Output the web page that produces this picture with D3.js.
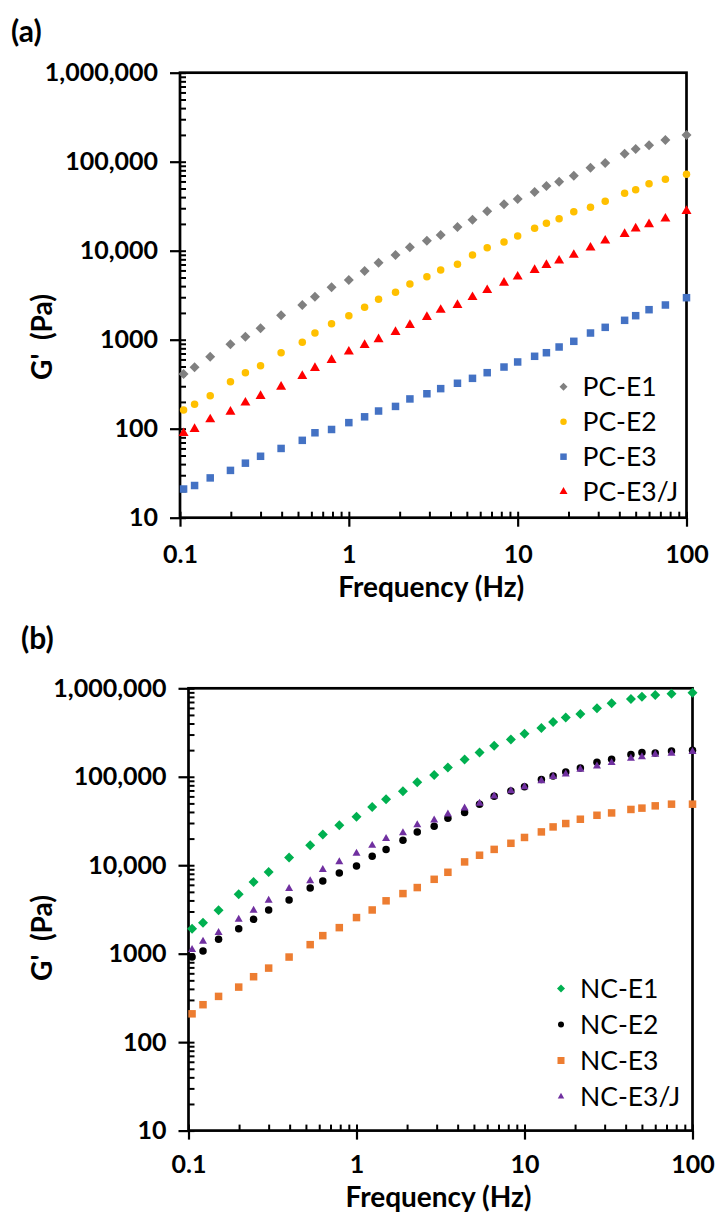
<!DOCTYPE html>
<html lang="en">
<head>
<meta charset="UTF-8">
<title>G' vs Frequency</title>
<script src="https://d3js.org/d3.v7.min.js"></script>
<style>
  body { margin: 0; background: #fff; }
  svg { display: block; font-family: Lato, "Open Sans", sans-serif; }
</style>
</head>
<body>
<svg id="chart" width="716" height="1214"></svg>
<script>
// frequency sweep points (Hz), shared by every series
const freqHz = [0.105, 0.122, 0.151, 0.199, 0.244, 0.3, 0.397, 0.53, 0.63, 0.79, 1.0,
  1.24, 1.5, 1.89, 2.3, 2.9, 3.5, 4.4, 5.4, 6.6, 8.3, 10, 12.6, 14.8, 17.6, 21.5,
  27, 33, 43, 50, 60, 75, 100];

// panel (a) - G' (Pa)
const pcE1 = [412, 490, 644, 887, 1081, 1343, 1880, 2454, 3041, 3880, 4700, 5915, 7330,
  8950, 10900, 12950, 15000, 18450, 22300, 27700, 33200, 38100, 45700, 53400, 59600,
  69600, 85700, 96700, 123000, 139000, 153000, 175000, 199500];
const pcE2 = [162, 188, 235, 337, 426, 511, 714, 935, 1189, 1513, 1862, 2312, 2840, 3410,
  4230, 5100, 6070, 7030, 8950, 10800, 12500, 14600, 17900, 20300, 22900, 27400, 30700,
  35900, 44200, 48400, 56600, 63400, 72100];
const pcE3 = [21, 23, 28, 34, 41, 49, 60, 74, 90, 98, 117, 136, 158, 178, 216, 247, 282,
  324, 368, 426, 493, 562, 651, 714, 828, 959, 1189, 1377, 1651, 1862, 2174, 2454, 2965];
const pcE3J = [89, 99, 127, 155, 196, 233, 296, 391, 481, 591, 733, 871, 1009, 1218, 1461,
  1798, 2158, 2454, 3000, 3600, 4350, 5100, 6070, 6900, 7720, 8950, 10800, 12950, 15400,
  17700, 19800, 22900, 27900];

// panel (b) - G' (Pa)
const ncE1 = [1919, 2244, 3090, 4690, 6460, 8400, 12200, 16800, 22200, 28300, 35200, 45600,
  55700, 68700, 86900, 105000, 127000, 157000, 188000, 224000, 264000, 306000, 355000,
  415000, 469000, 511000, 593000, 676000, 756000, 803000, 840000, 868000, 890000];
const ncE2 = [916, 1072, 1452, 1919, 2443, 3120, 4050, 5530, 6640, 8170, 9810, 12600, 15100,
  19100, 23800, 27600, 34000, 39400, 49000, 60300, 69200, 76900, 93100, 102000, 113000,
  126000, 146000, 158000, 179000, 188000, 186000, 195000, 200000];
const ncE3 = [209, 265, 329, 419, 549, 687, 916, 1265, 1600, 1970, 2560, 3120, 3960, 4780,
  5590, 6930, 8320, 10900, 12970, 15100, 17700, 20600, 23800, 27100, 29600, 33100, 36700,
  39000, 42700, 44200, 46900, 49000, 49000];
const ncE3J = [1109, 1377, 1730, 2443, 3090, 4010, 5440, 6640, 8930, 10900, 13600, 16700,
  20000, 23200, 28600, 32300, 37800, 44200, 49900, 60300, 69200, 76900, 89900, 100000,
  107000, 121000, 132000, 144000, 161000, 168000, 179000, 184000, 192000];

const namesA = ["PC-E1", "PC-E2", "PC-E3", "PC-E3/J"];
const namesB = ["NC-E1", "NC-E2", "NC-E3", "NC-E3/J"];

const yTickValues = [10, 100, 1000, 10000, 100000, 1000000];
const yTickLabels = ["10", "100", "1000", "10,000", "100,000", "1,000,000"];
const xTickValues = [0.1, 1, 10, 100];
const xTickLabels = ["0.1", "1", "10", "100"];

const svg = d3.select("#chart");

// minor ticks 2..9 in every decade
function minorTicks(lo, hi) {
  const out = [];
  for (let d = lo; d < hi; d *= 10)
    for (let k = 1; k < 10; k++) out.push(+(d * k).toPrecision(3));
  out.push(hi);
  return out;
}

// marker shapes: w = overall width
function marker(sel, shape, w, color) {
  if (shape === "diamond") {
    const s = w / Math.SQRT2;
    sel.append("path").attr("d", d3.symbol(d3.symbolSquare, s * s)()).attr("transform", "rotate(45)");
  }
  if (shape === "circle") sel.append("circle").attr("r", w / 2);
  if (shape === "square") sel.append("rect").attr("x", -w / 2).attr("y", -w / 2).attr("width", w).attr("height", w);
  if (shape === "triangle") sel.append("path").attr("d", d3.symbol(d3.symbolTriangle, Math.sqrt(3) / 4 * w * w)());
  sel.attr("fill", color);
}

function drawPanel(p) {
  const x = d3.scaleLog().domain([0.1, 100]).range([p.left, p.right]);
  const y = d3.scaleLog().domain([10, 1e6]).range([p.bottom, p.top]);
  const g = svg.append("g");

  // y axis: inside ticks (all) + outside major ticks with labels
  g.append("g").attr("transform", `translate(${p.left},0)`)
    .call(d3.axisRight(y).tickValues(minorTicks(10, 1e6)).tickSize(6).tickFormat(""))
    .call(a => a.select(".domain").remove())
    .selectAll("line").attr("stroke", "#000").attr("stroke-width", 2);
  const ya = g.append("g").attr("transform", `translate(${p.left},0)`)
    .call(d3.axisLeft(y).tickValues(yTickValues).tickSize(10).tickPadding(12)
      .tickFormat((d, i) => yTickLabels[i]))
    .call(a => a.select(".domain").remove());
  ya.selectAll("line").attr("stroke", "#000").attr("stroke-width", 2.2);
  ya.selectAll("text").attr("fill", "#000").attr("font-size", 25).attr("font-weight", 700)
    .attr("font-family", "Lato");

  // x axis
  g.append("g").attr("transform", `translate(0,${p.bottom})`)
    .call(d3.axisTop(x).tickValues(minorTicks(0.1, 100)).tickSize(6).tickFormat(""))
    .call(a => a.select(".domain").remove())
    .selectAll("line").attr("stroke", "#000").attr("stroke-width", 2);
  const xa = g.append("g").attr("transform", `translate(0,${p.bottom})`)
    .call(d3.axisBottom(x).tickValues(xTickValues).tickSize(9).tickFormat((d, i) => xTickLabels[i]))
    .call(a => a.select(".domain").remove());
  xa.selectAll("line").attr("stroke", "#000").attr("stroke-width", 2.2);
  xa.selectAll("text").attr("fill", "#000").attr("font-size", 25).attr("font-weight", 700)
    .attr("font-family", "Lato").attr("y", p.xLabelGap).attr("dy", "0.35em");

  // plot frame
  g.append("rect").attr("x", p.left).attr("y", p.top)
    .attr("width", p.right - p.left).attr("height", p.bottom - p.top)
    .attr("fill", "none").attr("stroke", "#000").attr("stroke-width", 2.7);

  // series
  p.series.forEach(s => {
    s.values.forEach((v, i) => {
      const m = g.append("g").attr("transform", `translate(${x(freqHz[i])},${y(v)})`);
      marker(m, s.shape, s.size, s.color);
    });
  });

  // legend
  p.series.forEach((s, i) => {
    const ly = p.legendY + i * p.legendStep;
    const m = g.append("g").attr("transform", `translate(${p.legendX},${ly})`);
    marker(m, s.shape, s.legendSize, s.color);
    g.append("text").attr("x", p.legendX + 19).attr("y", ly).attr("dy", "0.36em")
      .attr("font-size", 26.5).attr("fill", "#000").text(s.name);
  });

  // axis titles
  g.append("text").attr("x", (p.left + p.right) / 2 - 2).attr("y", p.bottom + p.xTitleGap).attr("dy", "0.35em")
    .attr("text-anchor", "middle").attr("font-size", 28).attr("font-weight", 700)
    .text("Frequency (Hz)");
  g.append("text").attr("transform", `translate(${p.titleX},${p.titleY}) rotate(-90)`)
    .attr("dy", "0.35em").attr("text-anchor", "middle").attr("font-size", 28)
    .attr("font-weight", 700).style("white-space", "pre").text("G'  (Pa)");

  // panel letter
  g.append("text").attr("x", p.tagX).attr("y", p.tagY).attr("dy", "0.35em")
    .attr("font-size", 30).attr("font-weight", 700).text(p.tag);
}

drawPanel({
  left: 180, right: 686.5, top: 72.7, bottom: 517.7, xLabelGap: 37, xTitleGap: 69,
  titleX: 42, titleY: 337, tag: "(a)", tagX: 11, tagY: 31,
  legendX: 563.5, legendY: 386.7, legendStep: 35,
  series: [
    { name: namesA[0], values: pcE1, shape: "diamond", size: 10, legendSize: 8, color: "#808080" },
    { name: namesA[1], values: pcE2, shape: "circle", size: 7.5, legendSize: 6.5, color: "#FFC000" },
    { name: namesA[2], values: pcE3, shape: "square", size: 7.5, legendSize: 6.5, color: "#4472C4" },
    { name: namesA[3], values: pcE3J, shape: "triangle", size: 10, legendSize: 8, color: "#FF0000" }
  ]
});

drawPanel({
  left: 188.5, right: 692.5, top: 688.3, bottom: 1130.6, xLabelGap: 34, xTitleGap: 66.5,
  titleX: 42, titleY: 938, tag: "(b)", tagX: 21, tagY: 638,
  legendX: 561, legendY: 988.5, legendStep: 36,
  series: [
    { name: namesB[0], values: ncE1, shape: "diamond", size: 10, legendSize: 8, color: "#00B050" },
    { name: namesB[1], values: ncE2, shape: "circle", size: 7.5, legendSize: 6, color: "#000000" },
    { name: namesB[2], values: ncE3, shape: "square", size: 7.5, legendSize: 7, color: "#ED7D31" },
    { name: namesB[3], values: ncE3J, shape: "triangle", size: 8, legendSize: 6.5, color: "#7030A0" }
  ]
});
</script>
</body>
</html>
